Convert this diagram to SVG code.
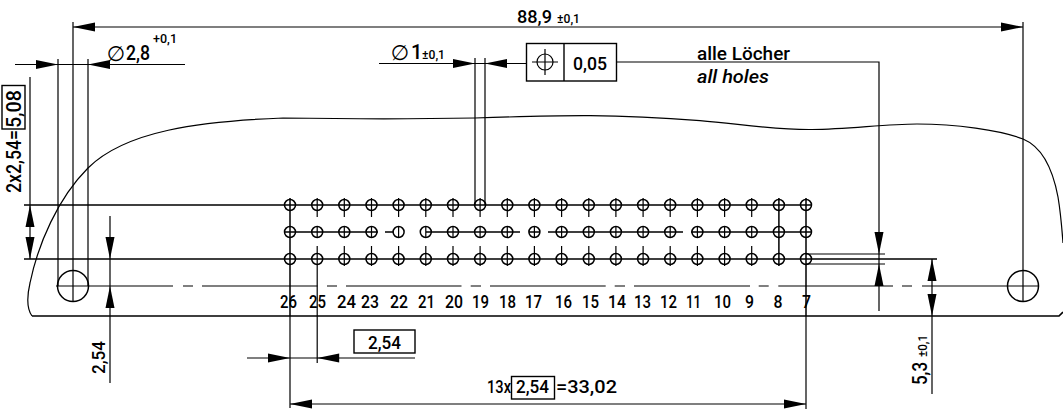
<svg xmlns="http://www.w3.org/2000/svg" xmlns:xlink="http://www.w3.org/1999/xlink" width="1063" height="409" viewBox="0 0 1063 409">
<style>
text{font-family:Roboto,"Liberation Sans",sans-serif;fill:#000;font-size:18.5px;font-weight:500}
.s{font-size:13px}
.b{font-size:20px}
.i{font-style:italic}
.p{font-family:"DejaVu Sans",sans-serif;font-size:21px;font-weight:400}
.l,.o,.t,.m{fill:none;stroke:#000;stroke-width:1.2}
.o{stroke-width:1.2}
.t{stroke-width:1.7}
.m{stroke-width:1.5}
.w{fill:#fff;stroke:#000;stroke-width:1.4}
</style>
<defs>
<path id="ar" d="M0 0L-22 -4.500V4.500Z" fill="#000"/>
<g id="pin"><circle r="5.500" fill="none" stroke="#000" stroke-width="1.5"/></g>
</defs>
<rect width="1063" height="409" fill="#fff"/>
<path id="outline" class="o" d="M32 316C27 309 27 296 30 283C38 244 58 198 88 168C125 131 200 121 283 118C350 119 420 119 475 118C520 116.500 555 115.500 590 115.700C630 116 665 118 700 120.700C740 124 775 130 812 129.500C850 129 885 124 917 124C955 124 1000 130 1023 139C1040 146 1052 165 1058 197C1061 215 1062 230 1063 243"/>
<g id="connectors">
<path class="t" d="M32 316H1059L1063 312"/>
<path class="l" d="M73 22V302M1023 22V301M58 59V286M88 59V286M73 27H1023M15 64.500H185M379 63.500H527M617 62H879V311M475 58V205M485 58V205M30 77V259M110 216V383M247 358H415M290 404H806M932 259V394M806 254H885M806 264H885"/>
<path class="m" d="M24 205H811M24 259H937"/>
<path class="l" d="M56 286H173M183 286H193M202 286H317.500M327 286H337M346 286H461.500M470.700 286H481M490 286H605.700M614.700 286H625M634 286H750M758.700 286H768.700M778.300 286H893M902 286H912M922 286H1039"/>
<path class="m" d="M285 232H378M385 232H393M426 232H520M529 232H540M548 232H676M670 232H683M691 232H812"/>
<path class="m" d="M290 198V316M778.900 198V266M806 198V316"/>
<path class="l" d="M290 316V408M317.200 246V363M806 316V409"/>
<path class="l" d="M317.200 198V217M344.300 198V217M371.500 198V217M398.600 198V217M425.800 198V217M453 198V217M480.100 198V217M507.300 198V217M534.400 198V217M561.600 198V217M588.800 198V217M615.900 198V217M643.100 198V217M670.200 198V217M697.400 198V217M724.600 198V217M751.700 198V217"/>
<path class="l" d="M317.200 226V238M344.300 226V238M371.500 226V238M398.600 226V238M425.800 226V238M453 226V238M480.100 226V238M507.300 226V238M534.400 226V238M561.600 226V238M588.800 226V238M615.900 226V238M643.100 226V238M670.200 226V238M697.400 226V238M724.600 226V238M751.700 226V238"/>
<path class="l" d="M344.300 246V266M371.500 246V266M398.600 246V266M425.800 246V266M453 246V266M480.100 246V266M507.300 246V266M534.400 246V266M561.600 246V266M588.800 246V266M615.900 246V266M643.100 246V266M670.200 246V266M697.400 246V266M724.600 246V266M751.700 246V266"/>
<use xlink:href="#ar" href="#ar" transform="translate(73 27) rotate(180)"/>
<use xlink:href="#ar" href="#ar" transform="translate(1023 27)"/>
<use xlink:href="#ar" href="#ar" transform="translate(58 64.500)"/>
<use xlink:href="#ar" href="#ar" transform="translate(88 64.500) rotate(180)"/>
<use xlink:href="#ar" href="#ar" transform="translate(475 63.500)"/>
<use xlink:href="#ar" href="#ar" transform="translate(485 63.500) rotate(180)"/>
<use xlink:href="#ar" href="#ar" transform="translate(30 205) rotate(-90)"/>
<use xlink:href="#ar" href="#ar" transform="translate(30 259) rotate(90)"/>
<use xlink:href="#ar" href="#ar" transform="translate(110 259) rotate(90)"/>
<use xlink:href="#ar" href="#ar" transform="translate(110 286) rotate(-90)"/>
<use xlink:href="#ar" href="#ar" transform="translate(290 358)"/>
<use xlink:href="#ar" href="#ar" transform="translate(317.200 358) rotate(180)"/>
<use xlink:href="#ar" href="#ar" transform="translate(290 404) rotate(180)"/>
<use xlink:href="#ar" href="#ar" transform="translate(806 404)"/>
<use xlink:href="#ar" href="#ar" transform="translate(879 254) rotate(90)"/>
<use xlink:href="#ar" href="#ar" transform="translate(879 264) rotate(-90)"/>
<use xlink:href="#ar" href="#ar" transform="translate(932 259) rotate(-90)"/>
<use xlink:href="#ar" href="#ar" transform="translate(932 316) rotate(90)"/>
</g>
<g id="holes">
<circle class="m" cx="73" cy="286" r="15.500"/>
<circle class="m" cx="1023" cy="286" r="15.500"/>
<use href="#pin" x="290" y="205"/><use href="#pin" x="317.200" y="205"/><use href="#pin" x="344.300" y="205"/><use href="#pin" x="371.500" y="205"/><use href="#pin" x="398.600" y="205"/><use href="#pin" x="425.800" y="205"/><use href="#pin" x="453" y="205"/><use href="#pin" x="480.100" y="205"/><use href="#pin" x="507.300" y="205"/><use href="#pin" x="534.400" y="205"/><use href="#pin" x="561.600" y="205"/><use href="#pin" x="588.800" y="205"/><use href="#pin" x="615.900" y="205"/><use href="#pin" x="643.100" y="205"/><use href="#pin" x="670.200" y="205"/><use href="#pin" x="697.400" y="205"/><use href="#pin" x="724.600" y="205"/><use href="#pin" x="751.700" y="205"/><use href="#pin" x="778.900" y="205"/><use href="#pin" x="806" y="205"/>
<use href="#pin" x="290" y="232"/><use href="#pin" x="317.200" y="232"/><use href="#pin" x="344.300" y="232"/><use href="#pin" x="371.500" y="232"/><use href="#pin" x="398.600" y="232"/><use href="#pin" x="425.800" y="232"/><use href="#pin" x="453" y="232"/><use href="#pin" x="480.100" y="232"/><use href="#pin" x="507.300" y="232"/><use href="#pin" x="534.400" y="232"/><use href="#pin" x="561.600" y="232"/><use href="#pin" x="588.800" y="232"/><use href="#pin" x="615.900" y="232"/><use href="#pin" x="643.100" y="232"/><use href="#pin" x="670.200" y="232"/><use href="#pin" x="697.400" y="232"/><use href="#pin" x="724.600" y="232"/><use href="#pin" x="751.700" y="232"/><use href="#pin" x="778.900" y="232"/><use href="#pin" x="806" y="232"/>
<use href="#pin" x="290" y="259"/><use href="#pin" x="317.200" y="259"/><use href="#pin" x="344.300" y="259"/><use href="#pin" x="371.500" y="259"/><use href="#pin" x="398.600" y="259"/><use href="#pin" x="425.800" y="259"/><use href="#pin" x="453" y="259"/><use href="#pin" x="480.100" y="259"/><use href="#pin" x="507.300" y="259"/><use href="#pin" x="534.400" y="259"/><use href="#pin" x="561.600" y="259"/><use href="#pin" x="588.800" y="259"/><use href="#pin" x="615.900" y="259"/><use href="#pin" x="643.100" y="259"/><use href="#pin" x="670.200" y="259"/><use href="#pin" x="697.400" y="259"/><use href="#pin" x="724.600" y="259"/><use href="#pin" x="751.700" y="259"/><use href="#pin" x="778.900" y="259"/><use href="#pin" x="806" y="259"/>
</g>
<g id="frame">
<rect class="w" x="526.500" y="43.500" width="90" height="37.500"/>
<path class="w" d="M564 43.500V81"/>
<circle class="l" cx="545" cy="62" r="8"/>
<path class="l" d="M532 62H558M545 49V75"/>
<rect class="w" x="2" y="85.500" width="23" height="43.500"/>
<rect class="w" x="354" y="330" width="61" height="23"/>
<rect class="w" x="511.500" y="376.500" width="43" height="22.500"/>
</g>
<g id="labels">
<text x="517" y="23" textLength="35" lengthAdjust="spacingAndGlyphs">88,9</text>
<text class="s" x="557" y="23" textLength="23" lengthAdjust="spacingAndGlyphs">±0,1</text>
<text class="p" x="116" y="61" text-anchor="middle">∅</text>
<text class="b" x="126" y="60" textLength="24" lengthAdjust="spacingAndGlyphs">2,8</text>
<text class="s" x="153" y="43" textLength="24" lengthAdjust="spacingAndGlyphs">+0,1</text>
<text class="p" x="400" y="60" text-anchor="middle">∅</text>
<text class="b" x="411" y="59">1</text>
<text class="s" x="422" y="59" textLength="23" lengthAdjust="spacingAndGlyphs">±0,1</text>
<text x="573" y="70" textLength="34" lengthAdjust="spacingAndGlyphs">0,05</text>
<text x="697" y="59.500" textLength="93" lengthAdjust="spacingAndGlyphs">alle Löcher</text>
<text class="i" x="697" y="83" textLength="72" lengthAdjust="spacingAndGlyphs">all holes</text>
<text class="b" transform="translate(20.500 193) rotate(-90)" textLength="63" lengthAdjust="spacingAndGlyphs">2x2,54=</text>
<text class="b" transform="translate(20.500 128) rotate(-90)" textLength="38" lengthAdjust="spacingAndGlyphs">5,08</text>
<text transform="translate(105 374) rotate(-90)" textLength="33" lengthAdjust="spacingAndGlyphs">2,54</text>
<text class="b" transform="translate(926.500 385) rotate(-90)" textLength="23" lengthAdjust="spacingAndGlyphs">5,3</text>
<text class="s" transform="translate(926.500 357) rotate(-90)" textLength="22" lengthAdjust="spacingAndGlyphs">±0,1</text>
<text x="368" y="349" textLength="33" lengthAdjust="spacingAndGlyphs">2,54</text>
<text x="487" y="393" textLength="24" lengthAdjust="spacingAndGlyphs">13x</text>
<text x="516" y="393" textLength="33" lengthAdjust="spacingAndGlyphs">2,54</text>
<text x="556" y="393" textLength="61" lengthAdjust="spacingAndGlyphs">=33,02</text>
<text x="280" y="307.500" textLength="17" lengthAdjust="spacingAndGlyphs">26</text>
<text x="309" y="307.500" textLength="17" lengthAdjust="spacingAndGlyphs">25</text>
<text x="337" y="307.500" textLength="19" lengthAdjust="spacingAndGlyphs">24</text>
<text x="361" y="307.500" textLength="18" lengthAdjust="spacingAndGlyphs">23</text>
<text x="390" y="307.500" textLength="18" lengthAdjust="spacingAndGlyphs">22</text>
<text x="418" y="307.500" textLength="17" lengthAdjust="spacingAndGlyphs">21</text>
<text x="445" y="307.500" textLength="18" lengthAdjust="spacingAndGlyphs">20</text>
<text x="472" y="307.500" textLength="17" lengthAdjust="spacingAndGlyphs">19</text>
<text x="499" y="307.500" textLength="17" lengthAdjust="spacingAndGlyphs">18</text>
<text x="525" y="307.500" textLength="17" lengthAdjust="spacingAndGlyphs">17</text>
<text x="555" y="307.500" textLength="17" lengthAdjust="spacingAndGlyphs">16</text>
<text x="582" y="307.500" textLength="17" lengthAdjust="spacingAndGlyphs">15</text>
<text x="608" y="307.500" textLength="18" lengthAdjust="spacingAndGlyphs">14</text>
<text x="634" y="307.500" textLength="17" lengthAdjust="spacingAndGlyphs">13</text>
<text x="660" y="307.500" textLength="17" lengthAdjust="spacingAndGlyphs">12</text>
<text x="686" y="307.500" textLength="15" lengthAdjust="spacingAndGlyphs">11</text>
<text x="714" y="307.500" textLength="17" lengthAdjust="spacingAndGlyphs">10</text>
<text x="745" y="307.500" textLength="9" lengthAdjust="spacingAndGlyphs">9</text>
<text x="773.500" y="307.500" textLength="9" lengthAdjust="spacingAndGlyphs">8</text>
<text x="802" y="307.500" textLength="9" lengthAdjust="spacingAndGlyphs">7</text>
</g>
</svg>
